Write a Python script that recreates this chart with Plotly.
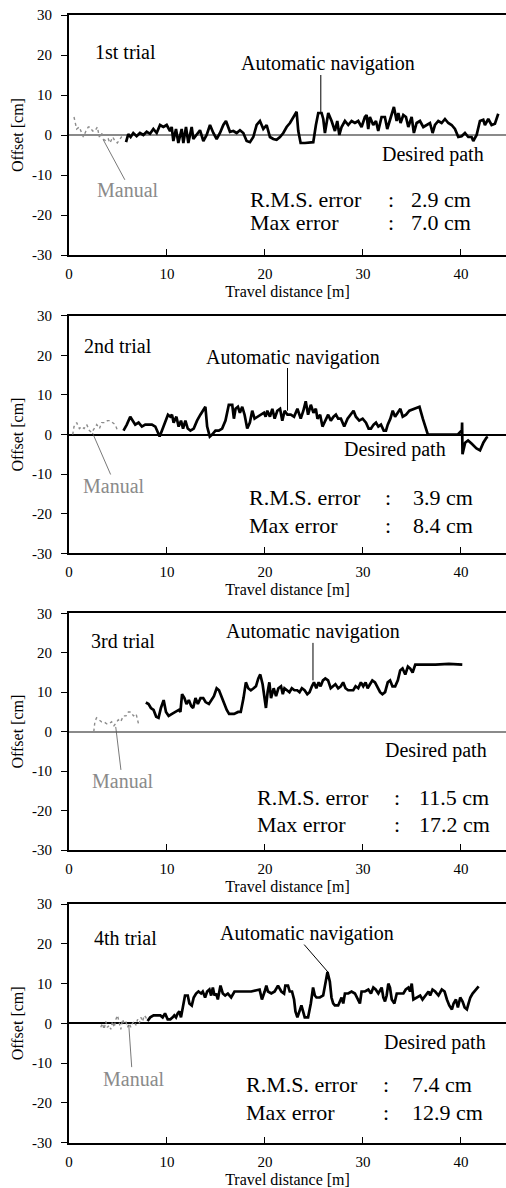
import plotly.graph_objects as go

# ---------------- data: lateral offset vs travel distance ----------------
# 1st trial
dist_auto_1 = [5.82, 6.05, 6.29, 6.56, 6.90, 7.24, 7.59, 7.93, 8.27, 8.61, 8.95, 9.29, 9.63, 9.97,
               10.31, 10.48, 10.65, 10.92, 11.16, 11.50, 11.67, 11.94, 12.18, 12.52, 12.69, 13.03,
               13.37, 13.71, 14.05, 14.39, 14.73, 15.07, 15.41, 15.75, 16.02, 16.43, 16.77, 17.11,
               17.45, 17.79, 18.13, 18.47, 18.81, 19.15, 19.49, 19.83, 20.17, 20.51, 20.85, 21.19,
               21.53, 21.87, 22.21, 22.55, 22.89, 23.23, 23.40, 23.64, 24.08, 24.59, 24.93, 25.20,
               25.44, 25.78, 25.95, 26.12, 26.46, 26.80, 27.14, 27.38, 27.59, 27.82, 28.16, 28.50,
               28.84, 29.18, 29.52, 29.86, 30.20, 30.37, 30.54, 30.71, 31.05, 31.33, 31.56, 31.90,
               32.24, 32.48, 32.82, 33.16, 33.44, 33.61, 33.84, 34.12, 34.39, 34.63, 34.97, 35.20,
               35.48, 35.82, 36.16, 36.50, 36.84, 37.11, 37.35, 37.69, 38.03, 38.37, 38.71, 39.05,
               39.39, 39.73, 40.07, 40.41, 40.75, 41.09, 41.26, 41.60, 41.94, 42.28, 42.45, 42.79,
               43.13, 43.47, 43.81]
off_auto_1 = [-1.8, 0.2, -0.5, 0.5, -0.3, 0.5, 0.0, 0.8, 0.3, 1.5, 0.5, 2.5, 2.0, 2.5,
              1.0, 2.0, -1.5, 1.5, -2.0, 1.5, -2.0, 2.0, -2.0, 2.0, -1.0, 0.0,
              1.2, -1.5, 0.0, 2.5, 0.5, -1.0, 0.5, 2.5, 3.5, 0.8, 1.0, 0.5,
              1.2, 0.5, -1.5, -1.8, -0.5, 2.5, 3.5, 1.5, 2.5, -0.5, -1.0, -1.2,
              -0.5, 0.5, 2.0, 3.0, 4.5, 5.8, 1.0, -2.0, -2.0, -1.8, -1.8, 2.5,
              5.5, 5.5, 4.0, 0.5, 5.5, 3.5, 1.0, 3.5, 0.0, 2.0, 3.5, 2.5,
              3.5, 3.0, 3.5, 2.0, 4.5, 5.0, 1.5, 4.5, 2.5, 3.5, 1.0, 4.5,
              4.5, 1.5, 4.5, 7.0, 3.5, 5.5, 3.0, 5.0, 4.5, 2.0, 4.5, 0.5,
              3.0, 3.5, 2.0, 2.5, 3.0, 0.5, 2.5, 3.5, 3.0, 4.0, 3.0, 2.5,
              1.5, -0.5, -0.3, 0.5, -0.5, -0.5, -1.5, 0.0, 3.5, 3.8, 2.5, 4.0,
              2.5, 2.8, 5.3]
dist_man_1 = [0.51, 0.78, 1.05, 1.29, 1.46, 1.73, 1.97, 2.14, 2.41, 2.65, 2.89, 3.10, 3.33,
              3.50, 3.78, 4.01, 4.18, 4.46, 4.69, 4.93, 5.20, 5.41, 5.61]
off_man_1 = [4.5, 1.5, 2.0, 0.5, -0.5, 1.0, 2.0, 2.0, 1.0, 1.0, 2.0, -0.5, 0.5,
             -1.0, -1.5, -1.0, -2.0, -0.5, -1.5, -2.0, -1.0, -0.3, 0.0]

# 2nd trial
dist_auto_2 = [5.56, 5.90, 6.25, 6.52, 6.76, 7.10, 7.44, 7.78, 8.12, 8.46, 8.81, 9.04, 9.25, 9.49,
               9.83, 10.10, 10.34, 10.51, 10.68, 10.96, 11.19, 11.43, 11.64, 11.88, 12.12, 12.39,
               12.73, 13.07, 13.41, 13.75, 13.92, 14.10, 14.37, 14.61, 14.95, 15.29, 15.63, 15.97,
               16.31, 16.66, 16.83, 17.00, 17.24, 17.44, 17.68, 17.92, 18.19, 18.46, 18.70, 18.94,
               19.22, 19.56, 19.90, 20.07, 20.24, 20.51, 20.75, 20.99, 21.26, 21.54, 21.77, 22.01,
               22.29, 22.63, 22.97, 23.31, 23.65, 23.92, 24.16, 24.40, 24.68, 24.95, 25.19, 25.36,
               25.63, 25.87, 26.21, 26.45, 26.72, 27.00, 27.24, 27.47, 27.75, 28.09, 28.43, 28.77,
               29.04, 29.28, 29.62, 29.97, 30.31, 30.58, 30.82, 31.09, 31.33, 31.57, 31.84, 32.12,
               32.35, 32.53, 32.80, 33.04, 33.28, 33.55, 33.82, 34.06, 34.40, 34.74, 35.26, 35.77,
               36.11, 36.62, 37.30, 38.67, 39.69, 40.00, 40.10, 40.12, 40.16, 40.43, 40.73, 41.08,
               41.59, 41.95, 42.30, 42.60, 42.75]
off_auto_2 = [1.0, 2.5, 4.5, 3.5, 2.5, 3.0, 2.0, 2.5, 2.5, 2.5, 2.0, 0.5, -0.5, 1.0,
              3.0, 5.0, 4.5, 5.0, 3.0, 4.5, 2.0, 3.5, 1.5, 3.5, 1.5, 1.0,
              1.5, 3.5, 5.0, 6.5, 7.0, 2.0, -0.5, 0.0, 1.0, 1.0, 1.5, 3.5,
              7.5, 7.5, 4.0, 6.5, 7.0, 5.5, 7.0, 5.0, 1.5, 3.0, 6.0, 4.0,
              4.5, 5.0, 5.5, 4.5, 6.0, 4.5, 6.5, 4.0, 6.0, 6.5, 3.5, 6.0,
              5.0, 5.0, 4.5, 6.5, 4.0, 6.0, 8.4, 5.0, 7.5, 5.5, 6.5, 4.0,
              5.0, 2.0, 4.0, 5.0, 3.5, 4.5, 5.0, 4.0, 4.0, 2.0, 4.0, 5.0,
              6.0, 4.5, 3.5, 4.0, 3.0, 1.5, 1.5, 2.5, 3.0, 2.0, 2.5, 1.0,
              1.0, 2.5, 4.0, 6.0, 4.5, 5.5, 6.5, 4.5, 5.0, 6.0, 6.5, 7.0,
              4.0, 0.0, 0.0, 0.0, 0.0, 0.8, 1.0, 3.0, -5.0, -2.1, -1.5, -2.3,
              -3.5, -4.0, -2.0, -0.8, -0.6]
dist_man_2 = [0.38, 0.51, 0.78, 1.06, 1.30, 1.54, 1.81, 2.08, 2.32, 2.56, 2.83, 3.11, 3.34,
              3.69, 3.92, 4.20, 4.47, 4.71, 4.95]
off_man_2 = [0.0, 2.0, 3.0, 1.5, 2.0, 1.5, 2.5, 1.0, 0.5, 1.5, 2.5, 1.5, 3.0,
             3.0, 3.5, 3.5, 3.0, 2.5, 1.0]

# 3rd trial
dist_auto_3 = [7.84, 8.12, 8.36, 8.63, 8.90, 9.14, 9.38, 9.66, 9.90, 10.17, 10.51, 10.86, 11.20,
               11.37, 11.54, 11.78, 11.99, 12.23, 12.47, 12.67, 12.91, 13.15, 13.42, 13.70, 13.94,
               14.28, 14.52, 14.79, 15.07, 15.31, 15.55, 15.82, 16.10, 16.34, 16.85, 17.26, 17.53,
               17.81, 18.05, 18.29, 18.56, 18.84, 19.08, 19.32, 19.52, 19.76, 19.93, 20.10, 20.27,
               20.45, 20.62, 20.89, 21.13, 21.37, 21.64, 21.82, 21.99, 22.26, 22.50, 22.74, 23.01,
               23.29, 23.53, 23.77, 24.04, 24.32, 24.55, 24.79, 25.00, 25.24, 25.48, 25.68, 25.92,
               26.16, 26.44, 26.71, 26.95, 27.19, 27.47, 27.74, 27.98, 28.22, 28.49, 28.77, 29.01,
               29.25, 29.52, 29.79, 30.03, 30.27, 30.48, 30.72, 30.96, 31.23, 31.51, 31.75, 31.99,
               32.26, 32.53, 32.77, 33.01, 33.29, 33.56, 33.80, 34.04, 34.32, 34.59, 34.83, 35.07,
               35.34, 35.68, 37.40, 38.77, 40.14]
off_auto_3 = [7.4, 7.0, 6.0, 5.5, 3.8, 3.5, 6.0, 8.0, 5.0, 4.0, 4.5, 5.0, 5.5,
              5.0, 9.5, 8.5, 7.0, 8.0, 6.5, 6.0, 8.5, 7.0, 8.5, 8.5, 7.5,
              7.0, 8.0, 9.0, 11.0, 10.5, 9.0, 7.0, 5.5, 4.5, 4.5, 5.0, 5.0,
              8.5, 12.5, 11.0, 10.5, 11.0, 11.5, 13.5, 14.5, 12.0, 9.0, 6.0, 10.0,
              12.5, 8.5, 11.0, 9.0, 11.0, 11.5, 9.5, 11.0, 10.5, 10.0, 11.0, 10.5,
              10.5, 10.0, 11.0, 10.5, 9.5, 10.0, 11.5, 12.5, 11.0, 12.5, 11.5, 13.0,
              13.5, 13.0, 11.0, 11.5, 12.0, 11.0, 11.5, 12.5, 11.0, 10.5, 10.5, 10.5,
              11.5, 11.0, 12.5, 11.5, 12.5, 11.0, 12.0, 13.0, 12.5, 11.0, 10.0, 9.5,
              10.0, 12.5, 13.0, 11.5, 11.5, 13.0, 15.5, 16.0, 14.5, 16.5, 16.0, 15.0,
              17.0, 17.0, 17.0, 17.2, 17.0]
dist_man_3 = [2.53, 2.64, 2.81, 3.08, 3.32, 3.56, 3.84, 4.11, 4.35, 4.59, 4.86, 5.03, 5.27,
              5.55, 5.82, 6.06, 6.30, 6.58, 6.85, 7.09]
off_man_3 = [0.0, 2.5, 3.5, 3.0, 2.5, 2.5, 2.0, 2.0, 2.5, 1.5, 2.5, 3.0, 2.5,
             4.0, 4.0, 5.0, 5.0, 4.0, 4.5, 2.0]

# 4th trial
dist_auto_4 = [8.02, 8.29, 8.63, 8.98, 9.32, 9.56, 9.80, 10.07, 10.34, 10.58, 10.75, 10.92, 11.09,
               11.26, 11.43, 11.84, 12.12, 12.29, 12.53, 12.73, 12.97, 13.21, 13.48, 13.65, 13.89,
               14.10, 14.33, 14.51, 14.68, 14.85, 15.02, 15.19, 15.46, 15.70, 15.94, 16.21, 16.55,
               16.89, 17.58, 18.60, 19.45, 19.69, 19.97, 20.14, 20.31, 20.65, 20.99, 21.33, 21.67,
               21.95, 22.08, 22.35, 22.53, 22.76, 22.97, 23.11, 23.31, 23.55, 23.72, 23.89, 24.06,
               24.40, 24.68, 24.91, 25.09, 25.26, 25.60, 25.94, 26.18, 26.38, 26.62, 26.79, 26.96,
               27.13, 27.47, 27.65, 27.82, 27.99, 28.16, 28.50, 28.84, 29.18, 29.52, 29.69, 29.86,
               30.20, 30.55, 30.82, 31.06, 31.30, 31.57, 31.91, 32.08, 32.25, 32.42, 32.59, 32.76,
               32.94, 33.21, 33.45, 33.79, 34.13, 34.37, 34.64, 34.81, 34.98, 35.15, 35.49, 35.84,
               36.08, 36.35, 36.69, 36.86, 37.10, 37.37, 37.71, 38.05, 38.33, 38.57, 38.81, 39.08,
               39.25, 39.49, 39.69, 39.93, 40.17, 40.38, 40.61, 40.78, 40.96, 41.19, 41.54, 41.81]
off_auto_4 = [0.6, 1.5, 2.0, 2.0, 2.0, 1.5, 2.5, 1.0, 1.0, 1.5, 2.0, 1.5, 2.5,
              3.0, 1.5, 7.0, 7.0, 5.0, 4.5, 6.5, 7.5, 8.0, 7.5, 8.0, 6.5,
              8.0, 8.5, 7.0, 9.0, 7.0, 7.5, 6.0, 9.5, 7.5, 7.0, 7.5, 6.5,
              8.0, 8.0, 8.0, 8.5, 6.0, 8.0, 9.5, 8.0, 7.5, 8.0, 9.5, 8.0,
              7.5, 9.5, 9.5, 8.0, 8.0, 6.0, 3.0, 1.5, 3.0, 4.5, 3.0, 1.5,
              1.5, 5.0, 9.0, 7.0, 6.5, 6.5, 7.0, 10.0, 12.9, 10.5, 6.5, 5.0,
              4.5, 4.5, 5.5, 6.5, 5.0, 7.5, 7.5, 8.0, 7.5, 6.0, 5.0, 8.0,
              8.0, 8.5, 7.5, 9.0, 8.5, 7.5, 9.0, 6.5, 5.5, 7.0, 10.0, 9.0,
              6.0, 5.0, 7.5, 7.5, 7.5, 8.5, 9.0, 8.0, 10.0, 6.0, 6.5, 7.0,
              6.0, 7.0, 8.0, 7.0, 8.5, 8.0, 7.0, 8.5, 8.0, 6.0, 4.5, 3.5,
              5.0, 6.0, 4.0, 6.5, 5.5, 4.0, 3.5, 5.0, 6.5, 7.5, 8.5, 9.3]
dist_man_4 = [3.24, 3.41, 3.58, 3.75, 3.92, 4.10, 4.27, 4.44, 4.61, 4.78, 4.95, 5.12, 5.29,
              5.46, 5.63, 5.80, 5.97, 6.14, 6.31, 6.48, 6.66, 6.83, 7.00, 7.17, 7.34,
              7.51, 7.68, 7.85, 8.02]
off_man_4 = [-1.0, 0.0, -1.5, 0.5, -1.0, -0.5, -1.5, 0.5, -1.0, 1.0, 2.0, 0.5, -1.5,
             1.0, 0.0, 0.5, -1.0, 0.0, -1.0, 0.0, 0.5, -0.5, 1.0, 0.0, 1.5,
             0.5, 2.0, 1.5, 0.5]

trial_names = ["1st trial", "2nd trial", "3rd trial", "4th trial"]
rms_error = ["2.9 cm", "3.9 cm", "11.5 cm", "7.4 cm"]
max_error = ["7.0 cm", "8.4 cm", "17.2 cm", "12.9 cm"]

x_ticks = [0, 10, 20, 30, 40]
x_tick_text = ["0", "10", "20", "30", "40"]
y_ticks = [-30, -20, -10, 0, 10, 20, 30]
y_tick_text = ["-30", "-20", "-10", "0", "10", "20", "30"]

auto_x = [dist_auto_1, dist_auto_2, dist_auto_3, dist_auto_4]
auto_y = [off_auto_1, off_auto_2, off_auto_3, off_auto_4]
man_x = [dist_man_1, dist_man_2, dist_man_3, dist_man_4]
man_y = [off_man_1, off_man_2, off_man_3, off_man_4]

# ---------------- layout constants ----------------
SERIF = "Liberation Serif, Times New Roman, serif"
W, H = 506, 1188
x_dom = [69 / W, 1.0]
# plot areas (top px, bottom px)
panels_px = [(15, 255), (315.7, 553.3), (613.3, 850), (904, 1142.7)]
zero_color = ["#8a8a8a", "#000000", "#8a8a8a", "#000000"]

# per panel text placement (data coordinates)
place = [
    dict(trial=(2.4, 20.8), auto=(26.4, 18.0), auto_ptr=((25.7, 15.0), (25.7, 5.6)),
         desired=(37.2, -4.8), manual=(6.0, -13.8), man_ptr=((3.5, -1.2), (5.7, -11.2)),
         stats_x=(18.3, 32.9, 34.7), stats_y=(-16.0, -21.8)),
    dict(trial=(1.3, 22.4), auto=(22.9, 19.4), auto_ptr=((22.3, 16.8), (22.3, 6.0)),
         desired=(33.3, -3.9), manual=(4.55, -13.0), man_ptr=((2.4, 0.4), (4.25, -10.1)),
         stats_x=(18.2, 32.6, 34.9), stats_y=(-16.0, -23.0)),
    dict(trial=(2.0, 23.0), auto=(24.9, 25.5), auto_ptr=((24.9, 22.5), (24.9, 13.0)),
         desired=(37.5, -4.9), manual=(5.5, -12.5), man_ptr=((4.77, 1.2), (5.3, -9.7)),
         stats_x=(19.0, 33.5, 35.5), stats_y=(-16.6, -23.6)),
    dict(trial=(2.3, 21.5), auto=(24.3, 22.5), auto_ptr=((24.0, 19.8), (26.5, 12.7)),
         desired=(37.4, -4.7), manual=(6.6, -14.0), man_ptr=((6.1, -0.4), (6.4, -11.0)),
         stats_x=(17.9, 32.4, 34.8), stats_y=(-15.3, -22.3)),
]

fig = go.Figure()
annotations = []
shapes = []

for i in range(4):
    n = "" if i == 0 else str(i + 1)
    xa, ya = "x" + n, "y" + n
    top, bot = panels_px[i]

    fig.add_trace(go.Scatter(
        x=man_x[i], y=man_y[i], mode="lines", xaxis=xa, yaxis=ya,
        line=dict(color="#8c8c8c", width=1.4, dash="dot"), name="Manual"))
    fig.add_trace(go.Scatter(
        x=auto_x[i], y=auto_y[i], mode="lines", xaxis=xa, yaxis=ya,
        line=dict(color="#000000", width=2.7), name="Automatic navigation"))

    fig.layout["xaxis" + n] = dict(
        domain=x_dom, anchor=ya, range=[0, 44.6],
        tickvals=x_ticks, ticktext=x_tick_text, ticks="inside", ticklen=6,
        tickwidth=1.2, tickcolor="black", showline=True, linewidth=2,
        linecolor="black", mirror=True, showgrid=False, zeroline=False,
        tickfont=dict(family=SERIF, size=15, color="black"),
        ticklabelstandoff=4,
        title=dict(text="Travel distance [m]", standoff=5,
                   font=dict(family=SERIF, size=16, color="black")),
        automargin=False)
    fig.layout["yaxis" + n] = dict(
        domain=[1 - bot / H, 1 - top / H], anchor=xa, range=[-30, 30],
        tickvals=y_ticks, ticktext=y_tick_text, ticks="outside", ticklen=6,
        tickwidth=1.2, tickcolor="black", showline=True, linewidth=2,
        linecolor="black", showgrid=False,
        zeroline=True, zerolinecolor=zero_color[i], zerolinewidth=1.5,
        tickfont=dict(family=SERIF, size=15, color="black"),
        ticklabelstandoff=6,
        title=dict(text="Offset [cm]", standoff=4,
                   font=dict(family=SERIF, size=16, color="black")),
        automargin=False)

    p = place[i]
    txt = dict(xref=xa, yref=ya, showarrow=False)
    annotations.append(dict(txt, x=p["trial"][0], y=p["trial"][1], text=trial_names[i],
                            xanchor="left", font=dict(family=SERIF, size=20, color="black")))
    annotations.append(dict(txt, x=p["auto"][0], y=p["auto"][1], text="Automatic navigation",
                            xanchor="center", font=dict(family=SERIF, size=20, color="black")))
    annotations.append(dict(txt, x=p["desired"][0], y=p["desired"][1], text="Desired path",
                            xanchor="center", font=dict(family=SERIF, size=20, color="black")))
    annotations.append(dict(txt, x=p["manual"][0], y=p["manual"][1], text="Manual",
                            xanchor="center", font=dict(family=SERIF, size=20, color="#8a8a8a")))
    sx, sy = p["stats_x"], p["stats_y"]
    for label, value, yy in (("R.M.S. error", rms_error[i], sy[0]),
                             ("Max error", max_error[i], sy[1])):
        f = dict(family=SERIF, size=22, color="black")
        annotations.append(dict(txt, x=sx[0], y=yy, text=label, xanchor="left", font=f))
        annotations.append(dict(txt, x=sx[1], y=yy, text=":", xanchor="center", font=f))
        annotations.append(dict(txt, x=sx[2], y=yy, text=value, xanchor="left", font=f))

    (ax0, ay0), (ax1, ay1) = p["auto_ptr"]
    shapes.append(dict(type="line", xref=xa, yref=ya, x0=ax0, y0=ay0, x1=ax1, y1=ay1,
                       line=dict(color="black", width=1)))
    (mx0, my0), (mx1, my1) = p["man_ptr"]
    shapes.append(dict(type="line", xref=xa, yref=ya, x0=mx0, y0=my0, x1=mx1, y1=my1,
                       line=dict(color="#555555", width=0.8)))

fig.update_layout(
    width=W, height=H, margin=dict(l=0, r=0, t=0, b=0),
    paper_bgcolor="white", plot_bgcolor="white", showlegend=False,
    annotations=annotations, shapes=shapes,
    font=dict(family=SERIF, color="black"),
)

fig.write_html("out.html")
